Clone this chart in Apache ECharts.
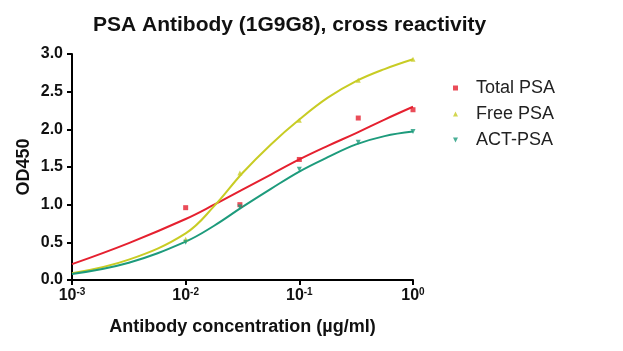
<!DOCTYPE html>
<html>
<head>
<meta charset="utf-8">
<script src="https://cdn.jsdelivr.net/npm/echarts@6/dist/echarts.min.js"></script>
<style>html,body{margin:0;padding:0;background:#fff;}#c{width:623px;height:351px;}</style>
</head>
<body>
<div id="c"></div>
<script>
// measured points
var conc = [0.01, 0.03, 0.1, 0.33, 1];
var totalPSA = [0.96, 1.00, 1.60, 2.15, 2.26];
var freePSA = [0.54, 1.42, 2.12, 2.65, 2.93];
var actPSA = [0.50, 0.97, 1.47, 1.83, 1.97];
// fitted curves
var curveX = [0.001, 0.00316, 0.01, 0.0178, 0.0316, 0.0562, 0.1, 0.178, 0.316, 0.562, 1];
var totalFit = [0.21, 0.49, 0.81, 1.00, 1.20, 1.40, 1.60, 1.78, 1.95, 2.13, 2.30];
var freeFit = [0.09, 0.27, 0.62, 0.98, 1.42, 1.80, 2.13, 2.42, 2.64, 2.80, 2.93];
var actFit = [0.08, 0.23, 0.51, 0.72, 0.97, 1.21, 1.44, 1.63, 1.80, 1.91, 1.97];
var seriesNames = ['Total PSA', 'Free PSA', 'ACT-PSA'];

var colors = ['#e5202f', '#c8cc24', '#1d9b7c'];
var symbols = ['rect', 'triangle', 'path://M0,0 L10,0 L5,10 Z'];
var FONT = 'Liberation Sans, Arial, sans-serif';

function pairs(xs, ys) { return xs.map(function (x, i) { return [x, ys[i]]; }); }
var pts = [totalPSA, freePSA, actPSA];
var fits = [totalFit, freeFit, actFit];

var series = [];
for (var i = 0; i < 3; i++) {
  series.push({
    name: seriesNames[i] + ' fit', type: 'line', data: pairs(curveX, fits[i]),
    smooth: 0.4, showSymbol: false, symbol: 'none', silent: true,
    lineStyle: { color: colors[i], width: 2 }, z: 2
  });
}
for (var j = 0; j < 3; j++) {
  series.push({
    name: seriesNames[j], type: 'scatter', data: pairs(conc, pts[j]),
    symbol: symbols[j], symbolSize: 5, itemStyle: { color: colors[j] }, z: 3
  });
}

var chart = echarts.init(document.getElementById('c'));
chart.setOption({
  animation: false,
  backgroundColor: '#fff',
  title: {
    text: 'PSA Antibody (1G9G8), cross reactivity',
    left: 88, top: 10,
    textStyle: { fontFamily: FONT, fontWeight: 'bold', fontSize: 21, color: '#111' }
  },
  legend: {
    data: seriesNames.map(function (n, k) { return { name: n, icon: symbols[k] }; }),
    orient: 'vertical', left: 448, top: 74, itemWidth: 5, itemHeight: 5, itemGap: 8,
    textStyle: { fontFamily: FONT, fontSize: 18, color: '#222', padding: [0, 0, 0, 13] }
  },
  grid: { left: 72, right: 210, top: 54, bottom: 71 },
  xAxis: {
    type: 'log', logBase: 10, min: 0.001, max: 1,
    name: 'Antibody concentration (µg/ml)', nameLocation: 'middle', nameGap: 38,
    nameMoveOverlap: false,
    nameTextStyle: { fontFamily: FONT, fontWeight: 'bold', fontSize: 18, color: '#111' },
    axisLine: { lineStyle: { color: '#000', width: 2 } },
    axisTick: { show: true, length: 5, lineStyle: { color: '#000', width: 2 } },
    minorTick: { show: false },
    splitLine: { show: false },
    axisLabel: {
      margin: 7,
      formatter: function (v) { return '{b|10}{s|' + Math.round(Math.log10(v)) + '}'; },
      rich: {
        b: { fontFamily: FONT, fontWeight: 'bold', fontSize: 16, color: '#111' },
        s: { fontFamily: FONT, fontWeight: 'bold', fontSize: 10, color: '#111', verticalAlign: 'top', padding: [0, 0, 7, 0] }
      }
    }
  },
  yAxis: {
    type: 'value', min: 0, max: 3, interval: 0.5,
    name: 'OD450', nameLocation: 'middle', nameGap: 39,
    nameMoveOverlap: false,
    nameTextStyle: { fontFamily: FONT, fontWeight: 'bold', fontSize: 18, color: '#111' },
    axisLine: { show: true, lineStyle: { color: '#000', width: 2 } },
    axisTick: { show: true, length: 5, lineStyle: { color: '#000', width: 2 } },
    splitLine: { show: false },
    axisLabel: {
      margin: 9,
      fontFamily: FONT, fontWeight: 'bold', fontSize: 16, color: '#111',
      formatter: function (v) { return v.toFixed(1); }
    }
  },
  series: series
});
</script>
</body>
</html>
